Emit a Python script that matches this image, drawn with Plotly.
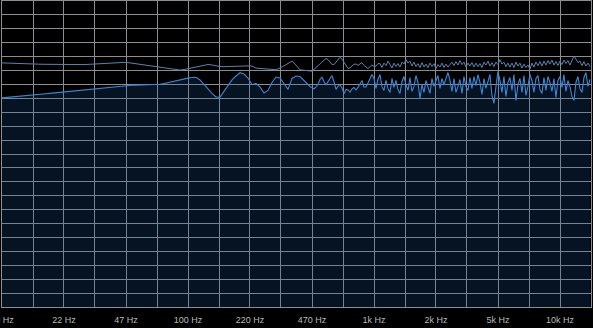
import plotly.graph_objects as go

# Frequency sampling points (Hz)
freq_low = [10, 10.8, 11.6, 12.5, 13.13, 13.80, 14.50, 15.24, 16.01, 16.82, 17.68, 18.57, 19.52, 20.51, 21.55,
            22.64, 23.79, 25.0, 26.27, 27.60, 29.00, 30.48, 32.02, 33.65, 35.36, 37.15, 39.04, 41.02, 43.10,
            45.29, 47.58, 50.0, 52.54, 55.20, 58.01, 60.95, 64.04, 67.30, 70.71, 74.30, 78.07, 82.03, 86.20,
            90.57, 95.17, 100, 105.1, 110.4, 116.0, 121.9, 128.1, 134.6, 141.4, 148.6, 156.1, 164.1, 172.4,
            181.1, 190.3, 200, 210.2, 220.8, 232.0, 243.8, 256.2, 269.2, 282.8, 297.2, 312.3, 328.1, 344.8,
            362.3, 380.7]
freq_high = [400, 410, 420, 431, 442, 453, 464, 476, 488, 500, 512, 525, 538, 552, 566, 580, 594, 609, 625, 640,
             656, 673, 690, 707, 725, 743, 761, 780,
             800, 820, 841, 862, 883, 905, 928, 951, 975, 1000, 1025, 1050, 1077, 1104, 1131, 1160, 1189, 1219,
             1249, 1280, 1313, 1345, 1379, 1414, 1449, 1485, 1523, 1561,
             1600, 1640, 1681, 1723, 1767, 1811, 1856, 1903, 1950, 1999, 2049, 2101, 2153, 2207, 2263, 2319,
             2378, 2437, 2498, 2561, 2625, 2691, 2758, 2827, 2898, 2971, 3045, 3122,
             3200, 3280, 3362, 3447, 3533, 3622, 3712, 3805, 3901, 3999, 4099, 4202, 4307, 4415, 4525, 4639,
             4755, 4874, 4996, 5122, 5250, 5381, 5517, 5655, 5797, 5942, 6091, 6244,
             6400, 6560, 6725, 6893, 7066, 7243, 7425, 7611, 7801, 7997, 8198, 8403, 8614, 8830, 9051, 9278,
             9511, 9749, 9993, 10244, 10500, 10763, 11033, 11310, 11593, 11884, 12182, 12487,
             12800, 13121, 13450, 13787, 14132, 14487]

# Peak-hold (upper) level, dB
peak_low = [-31.15, -31.2, -31.3, -31.4, -31.5, -31.55, -31.65, -31.75, -31.8, -31.85, -31.9, -31.95, -32.0,
            -32.05, -32.1, -32.15, -32.15, -32.15, -32.1, -32.0, -31.9, -31.75, -31.6, -31.45, -31.3, -31.2,
            -31.1, -31.0, -30.95, -30.9, -31.0, -31.3, -31.7, -32.1, -32.45, -32.75, -33.0, -33.25, -33.5,
            -33.8, -34.15, -34.45, -34.65, -34.75, -34.5, -34.1, -33.6, -33.1, -32.6, -32.2, -31.95, -32.2,
            -32.7, -33.0, -33.05, -33.05, -33.0, -32.95, -32.85, -32.75, -32.65, -32.75, -33.75, -33.9, -33.9,
            -34.0, -34.25, -34.6, -33.75, -32.5, -31.4, -30.3, -32.25]
peak_high = [-34.65, -34.75, -34.85, -35.0, -35.1, -35.25, -35.3, -34.4, -33.6, -32.65, -31.7, -30.7, -29.7,
             -28.9, -29.5, -30.85, -31.85, -32.0, -30.5, -29.15, -28.35, -29.25, -30.85, -32.75, -34.0, -33.6,
             -32.85, -31.85, -31.7, -32.4, -31.65, -31.05, -32.35, -33.35, -34.0, -33.1, -32.15, -32.95, -32.75,
             -31.55,
             -31.5, -33.5, -31.25, -32.5, -30.25, -32.0, -33.75, -31.25, -33.0, -31.5, -33.25, -30.75, -31.75,
             -29.5, -31.25, -30.25, -32.75, -30.75, -33.0, -31.5, -33.5, -31.0, -33.25, -31.75, -33.5, -31.25,
             -33.0, -31.5, -34.0, -32.0, -33.25, -31.25, -33.5, -31.75, -33.25, -32.0,
             -30.75, -32.5, -30.5, -32.25, -30.0, -32.0, -30.75, -33.25, -31.25, -32.75, -31.0, -33.25, -31.25,
             -33.0, -31.5, -33.5, -30.75, -32.25, -30.25, -32.75, -31.0, -33.0, -30.75, -32.0, -29.5, -31.75,
             -30.75, -33.0, -31.25, -33.25, -31.25, -33.5, -30.75, -32.75, -31.25, -33.75, -31.75, -33.5,
             -32.25, -34.25, -31.25, -33.25, -30.75, -32.5, -30.5, -32.75, -30.25, -32.25, -30.0, -31.75,
             -29.75, -32.25, -30.5, -32.5, -30.25, -32.0, -29.75, -31.5, -30.0, -32.25, -29.5, -27.75, -29.25,
             -31.0, -30.25, -32.5, -30.5, -32.75, -31.25, -33.0]

# Live spectrum (lower, filled) level, dB
live_low = [-48.75, -48.5, -48.3, -48.0, -47.8, -47.6, -47.35, -47.15, -46.95, -46.75, -46.55, -46.35, -46.15,
            -45.95, -45.75, -45.55, -45.35, -45.15, -44.95, -44.7, -44.45, -44.25, -44.0, -43.75, -43.5, -43.3,
            -43.05, -42.85, -42.65, -42.5, -42.45, -42.4, -42.35, -42.3, -42.25, -42.2, -42.15, -42.15, -41.9,
            -41.5, -41.0, -40.6, -40.15, -39.65, -39.15, -38.8, -38.5, -38.4, -39.75, -42.0, -44.75, -46.5,
            -48.25, -48.4, -45.5, -42.5, -39.75, -37.75, -36.1, -36.75, -38.75, -42.0, -41.5, -43.25, -46.3,
            -45.0, -41.0, -38.25, -38.75, -41.5, -44.5, -39.0, -37.75]
live_high = [-38.0, -39.0, -40.25, -41.25, -42.25, -43.0, -43.5, -44.15, -43.25, -41.75, -39.5, -38.35, -40.35,
             -42.25, -40.5, -39.15, -37.5, -40.5, -44.5, -43.0, -42.0, -43.75, -46.65, -44.5, -44.75, -45.85,
             -44.25, -43.5, -44.75, -43.5, -41.65, -40.0, -43.25, -43.25, -41.25, -39.0, -37.0,
             -39.0, -44.0, -39.5, -37.0, -43.0, -45.0, -40.0, -44.0, -46.0, -39.0, -43.5, -40.0, -44.5, -46.5,
             -40.5, -38.0, -42.0, -45.0, -38.5, -45.5, -43.0, -37.5, -41.0, -49.0, -42.0, -46.0, -40.0, -44.0,
             -46.5, -39.0, -43.0, -40.0, -37.5, -44.0, -39.0, -42.0, -38.5, -36.0, -40.0,
             -45.5, -39.0, -46.0, -43.0, -39.5, -46.5, -38.0, -43.0, -45.0, -38.5, -44.0, -38.0, -42.5, -37.0,
             -41.0, -47.0, -39.0, -44.0, -40.0, -37.0, -47.5, -51.5, -43.0, -35.5, -40.0, -46.0, -38.0, -48.0,
             -41.0, -38.5, -45.0, -37.0, -50.0, -42.0, -39.0, -46.0, -37.5, -47.5, -43.0, -37.0, -40.0, -46.0,
             -39.0, -37.5, -44.5, -46.5, -38.5, -45.0, -38.0, -41.0, -45.5, -39.0, -48.5, -40.0, -38.0, -43.5,
             -37.0, -45.5, -40.0, -43.0, -48.0, -50.0, -41.0, -38.0, -44.0, -46.0, -38.5, -36.0, -43.0, -39.5]

# Axis grid / labels
grid_freqs = [10, 14.68, 21.54, 31.62, 46.42, 68.13, 100, 146.8, 215.4, 316.2, 464.2, 681.3,
              1000, 1468, 2154, 3162, 4642, 6813, 10000, 14678]
grid_labels = ["10 Hz", "", "22 Hz", "", "47 Hz", "", "100 Hz", "", "220 Hz", "", "470 Hz", "",
               "1k Hz", "", "2k Hz", "", "5k Hz", "", "10k Hz", ""]
Y_MIN, Y_MAX, Y_STEP = -154, 0, 7

freqs = freq_low + freq_high
peak = peak_low + peak_high
live = live_low + live_high

fig = go.Figure()
fig.add_trace(go.Scatter(x=[freqs[0], freqs[-1]], y=[Y_MIN, Y_MIN], mode="lines",
                         line=dict(width=0, color="rgba(0,0,0,0)"), hoverinfo="skip", showlegend=False))
fig.add_trace(go.Scatter(x=freqs, y=live, mode="lines", fill="tonexty",
                         fillcolor="rgba(30,95,170,0.2)",
                         line=dict(color="#3d86d6", width=1.1), showlegend=False))
fig.add_trace(go.Scatter(x=freqs, y=peak, mode="lines",
                         line=dict(color="#5a84b2", width=1), showlegend=False))

grid_col = "#8a8d92"
fig.update_xaxes(type="log", range=[1, 4.16667], tickmode="array", tickvals=grid_freqs,
                 ticktext=grid_labels, showgrid=True, gridcolor=grid_col, gridwidth=1,
                 zeroline=False, showline=True, linecolor=grid_col, linewidth=1, mirror=True,
                 ticks="", ticklabelstandoff=4, automargin=False, ticklabeloverflow="allow",
                 tickfont=dict(family="Liberation Sans, Arial, sans-serif", size=9, color="#b8b8b8"))
fig.update_yaxes(range=[Y_MIN, Y_MAX], tick0=0, dtick=Y_STEP, showgrid=True, gridcolor=grid_col,
                 gridwidth=1, zeroline=False, showticklabels=False, showline=True, linecolor=grid_col,
                 linewidth=1, mirror=True, automargin=False)
fig.update_layout(width=593, height=328, margin=dict(l=2, r=2, t=1, b=21),
                  paper_bgcolor="#000000", plot_bgcolor="#000000", showlegend=False)

fig.write_html("out.html")
